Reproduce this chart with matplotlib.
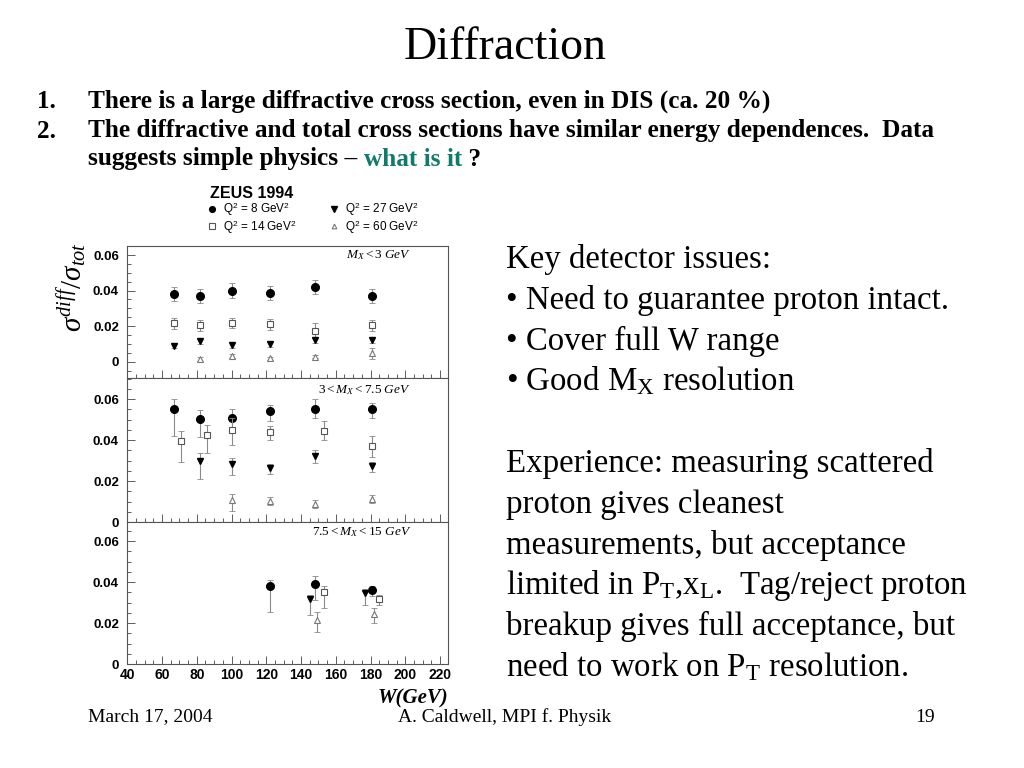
"""Slide 19: Diffraction – ZEUS 1994 sigma_diff/sigma_tot vs W."""

import matplotlib
matplotlib.use("Agg")
import matplotlib.pyplot as plt
from matplotlib.ticker import MultipleLocator, FuncFormatter

plt.rcParams["mathtext.fontset"] = "custom"
plt.rcParams["mathtext.rm"] = "Liberation Serif"
plt.rcParams["mathtext.it"] = "Liberation Serif:italic"
plt.rcParams["mathtext.bf"] = "Liberation Serif:bold"

SERIF = "Liberation Serif"
SANS = "Liberation Sans"

# ------------------------------------------------------------------ data
Q2_LABELS = ["Q$^\\mathsf{2}$ = 8 GeV$^\\mathsf{2}$", "Q$^\\mathsf{2}$ = 14 GeV$^\\mathsf{2}$",
             "Q$^\\mathsf{2}$ = 27 GeV$^\\mathsf{2}$", "Q$^\\mathsf{2}$ = 60 GeV$^\\mathsf{2}$"]
MX_LABELS = ["$M_X < 3\\ GeV$", "$3 < M_X < 7.5\\ GeV$", "$7.5 < M_X < 15\\ GeV$"]

# panel 1: M_X < 3 GeV
p1_w8 = [67, 82, 100, 122, 148, 181]
p1_y8 = [0.038, 0.037, 0.040, 0.0385, 0.042, 0.037]
p1_e8 = ([0.004, 0.004, 0.004, 0.004, 0.004, 0.004], [0.004, 0.004, 0.004, 0.004, 0.004, 0.004])
p1_w14 = [67, 82, 100, 122, 148, 181]
p1_y14 = [0.0216, 0.0205, 0.0218, 0.021, 0.0175, 0.0205]
p1_e14 = ([0.003, 0.003, 0.003, 0.003, 0.004, 0.003], [0.003, 0.003, 0.003, 0.003, 0.004, 0.003])
p1_w27 = [67, 82, 100, 122, 148, 181]
p1_y27 = [0.009, 0.0116, 0.0094, 0.0098, 0.0122, 0.012]
p1_e27 = ([0.0015] * 6, [0.0015] * 6)
p1_w60 = [82, 100, 122, 148, 181]
p1_y60 = [0.0015, 0.0032, 0.0018, 0.0028, 0.0047]
p1_e60 = ([0.001, 0.001, 0.001, 0.001, 0.003], [0.001, 0.001, 0.001, 0.001, 0.003])

# panel 2: 3 < M_X < 7.5 GeV
p2_w8 = [67, 82, 100, 122, 148, 181]
p2_y8 = [0.055, 0.0505, 0.051, 0.0542, 0.055, 0.055]
p2_e8 = ([0.013, 0.009, 0.007, 0.005, 0.004, 0.004], [0.005, 0.004, 0.004, 0.003, 0.005, 0.003])
p2_w14 = [71, 86, 100, 122, 153, 181]
p2_y14 = [0.0394, 0.0426, 0.0447, 0.0439, 0.0442, 0.0369]
p2_e14 = ([0.010, 0.009, 0.007, 0.004, 0.004, 0.005], [0.005, 0.005, 0.006, 0.003, 0.005, 0.005])
p2_w27 = [82, 100, 122, 148, 181]
p2_y27 = [0.0298, 0.0281, 0.0265, 0.032, 0.0273]
p2_e27 = ([0.009, 0.005, 0.003, 0.003, 0.003], [0.004, 0.003, 0.002, 0.003, 0.002])
p2_w60 = [100, 122, 148, 181]
p2_y60 = [0.0106, 0.0101, 0.0086, 0.0114]
p2_e60 = ([0.005, 0.002, 0.002, 0.002], [0.003, 0.002, 0.002, 0.002])

# panel 3: 7.5 < M_X < 15 GeV
p3_w8 = [122, 148, 181]
p3_y8 = [0.0382, 0.039, 0.0362]
p3_e8 = ([0.013, 0.008, 0.003], [0.003, 0.004, 0.002])
p3_w14 = [153, 185]
p3_y14 = [0.0353, 0.0316]
p3_e14 = ([0.008, 0.003], [0.003, 0.002])
p3_w27 = [145, 177]
p3_y27 = [0.0319, 0.0348]
p3_e27 = ([0.008, 0.006], [0.002, 0.002])
p3_w60 = [149, 182]
p3_y60 = [0.0215, 0.0242]
p3_e60 = ([0.006, 0.004], [0.004, 0.003])

PANELS = [
    [(p1_w8, p1_y8, p1_e8), (p1_w14, p1_y14, p1_e14), (p1_w27, p1_y27, p1_e27), (p1_w60, p1_y60, p1_e60)],
    [(p2_w8, p2_y8, p2_e8), (p2_w14, p2_y14, p2_e14), (p2_w27, p2_y27, p2_e27), (p2_w60, p2_y60, p2_e60)],
    [(p3_w8, p3_y8, p3_e8), (p3_w14, p3_y14, p3_e14), (p3_w27, p3_y27, p3_e27), (p3_w60, p3_y60, p3_e60)],
]

# ------------------------------------------------------------------ styles
SERIES_STYLE = [
    dict(marker="o", ms=5.5, mfc="black", mec="black"),
    dict(marker="s", ms=5.0, mfc="white", mec="#555555", mew=0.8),
    dict(marker="v", ms=5.0, mfc="black", mec="black"),
    dict(marker="^", ms=4.5, mfc="white", mec="#777777", mew=0.8),
]
PANEL_RECTS = [
    [0.1243, 0.5078, 0.3132, 0.1719],
    [0.1243, 0.3203, 0.3132, 0.1875],
    [0.1243, 0.1354, 0.3132, 0.1849],
]
PANEL_YLIM = [(-0.0092, 0.0651), (0.0, 0.0703), (0.0, 0.0693)]
LABEL_DROP_PX = [9, 12, 10]

plt.rcParams["mathtext.sf"] = SANS

fig = plt.figure(figsize=(10.24, 7.68), dpi=100)

ytick_fmt = FuncFormatter(lambda v, _: "0" if abs(v) < 1e-9 else f"{v:.2f}")
handles = []
for i, (rect, series) in enumerate(zip(PANEL_RECTS, PANELS)):
    ax = fig.add_axes(rect)
    for (w, y, e), style in zip(series, SERIES_STYLE):
        ax.errorbar(w, y, yerr=e, fmt="none", ecolor="#8a8a8a", elinewidth=0.8,
                    capsize=2.0, capthick=0.6)
        (line,) = ax.plot(w, y, ls="none", **style)
        if i == 0:
            handles.append(line)
    ax.set_xlim(40, 224.6)
    ax.set_ylim(*PANEL_YLIM[i])
    ax.xaxis.set_major_locator(MultipleLocator(20))
    ax.xaxis.set_minor_locator(MultipleLocator(5))
    ax.yaxis.set_major_locator(MultipleLocator(0.02))
    ax.yaxis.set_minor_locator(MultipleLocator(0.005))
    ax.yaxis.set_major_formatter(ytick_fmt)
    ax.tick_params(which="both", direction="in", color="#444444", width=0.6)
    ax.tick_params(which="major", length=6)
    ax.tick_params(which="minor", length=3)
    ax.tick_params(axis="y", labelsize=9.5, pad=6)
    ax.tick_params(axis="x", labelsize=10, pad=3)
    for lab in ax.get_xticklabels() + ax.get_yticklabels():
        lab.set_fontfamily(SANS)
        lab.set_fontweight("bold")
    if i < 2:
        ax.tick_params(axis="x", labelbottom=False)
    for sp in ax.spines.values():
        sp.set_linewidth(0.8)
        sp.set_color("#555555")
    height_px = rect[3] * 768
    ax.text(0.885, 1 - LABEL_DROP_PX[i] / height_px, MX_LABELS[i], transform=ax.transAxes,
            ha="right", va="center", fontsize=9.5, fontfamily=SERIF)
    if i == 2:
        ax.text(1.0, -0.17, "W(GeV)", transform=ax.transAxes, ha="right", va="top",
                fontsize=15, fontfamily=SERIF, fontweight="bold", fontstyle="italic")

# chart header and legend
fig.text(210 / 1024, 1 - 194 / 768, "ZEUS 1994", fontfamily=SANS, fontweight="bold",
         fontsize=11.5, va="center", ha="left")
fig.legend(handles, Q2_LABELS, ncol=2, loc="center left",
           bbox_to_anchor=(205 / 1024, 1 - 218 / 768), frameon=False, borderpad=0,
           borderaxespad=0, prop={"family": SANS, "size": 8.5}, handletextpad=0.3,
           columnspacing=2.6, labelspacing=0.0, handlelength=1.2, markerscale=0.75)
fig.text(0.071, 1 - 287 / 768, r"$\sigma^{diff}/\sigma_{tot}$", rotation=90,
         ha="center", va="center", fontsize=21, fontfamily=SERIF)

# ------------------------------------------------------------------ slide text
fig.text(505 / 1024, 1 - 48 / 768, "Diffraction", ha="center", va="center",
         fontsize=33, fontfamily=SERIF)

LIST_SIZE = 18.2
fig.text(37 / 1024, 1 - 101 / 768, "1.", fontsize=LIST_SIZE, fontfamily=SERIF,
         fontweight="bold", va="center")
fig.text(88 / 1024, 1 - 101 / 768, "There is a large diffractive cross section, even in DIS (ca. 20 %)",
         fontsize=LIST_SIZE, fontfamily=SERIF, fontweight="bold", va="center")
fig.text(37 / 1024, 1 - 131 / 768, "2.", fontsize=LIST_SIZE, fontfamily=SERIF,
         fontweight="bold", va="center")
fig.text(88 / 1024, 1 - 131 / 768,
         "The diffractive and total cross sections have similar energy dependences.  Data",
         fontsize=LIST_SIZE, fontfamily=SERIF, fontweight="bold", va="center")

renderer = fig.canvas.get_renderer()
x_pos = 88
for part, color in [("suggests simple physics \u2013 ", "black"),
                    ("what is it", "#127a6a"), (" ?", "black")]:
    t = fig.text(x_pos / 1024, 1 - 159 / 768, part, fontsize=LIST_SIZE,
                 fontfamily=SERIF, fontweight="bold", va="center", color=color)
    x_pos += t.get_window_extent(renderer).width

RIGHT_LINES = [
    "Key detector issues:",
    "\u2022 Need to guarantee proton intact.",
    "\u2022 Cover full W range",
    "\u2022 Good M$_\\mathrm{X}$ resolution",
    "",
    "Experience: measuring scattered",
    "proton gives cleanest",
    "measurements, but acceptance",
    "limited in P$_\\mathrm{T}$,x$_\\mathrm{L}$.  Tag/reject proton",
    "breakup gives full acceptance, but",
    "need to work on P$_\\mathrm{T}$ resolution.",
]
for k, line in enumerate(RIGHT_LINES):
    if line:
        fig.text(506 / 1024, 1 - (268 + 40.8 * k) / 768, line, fontsize=23.7,
                 fontfamily=SERIF, va="baseline", ha="left")

FOOT_Y = 1 - 717 / 768
fig.text(88 / 1024, FOOT_Y, "March 17, 2004", fontsize=14, fontfamily=SERIF, va="center")
fig.text(505 / 1024, FOOT_Y, "A. Caldwell, MPI f. Physik", fontsize=14, fontfamily=SERIF,
         va="center", ha="center")
fig.text(935 / 1024, FOOT_Y, "19", fontsize=14, fontfamily=SERIF, va="center", ha="right")

fig.savefig("out.png", dpi=100)
